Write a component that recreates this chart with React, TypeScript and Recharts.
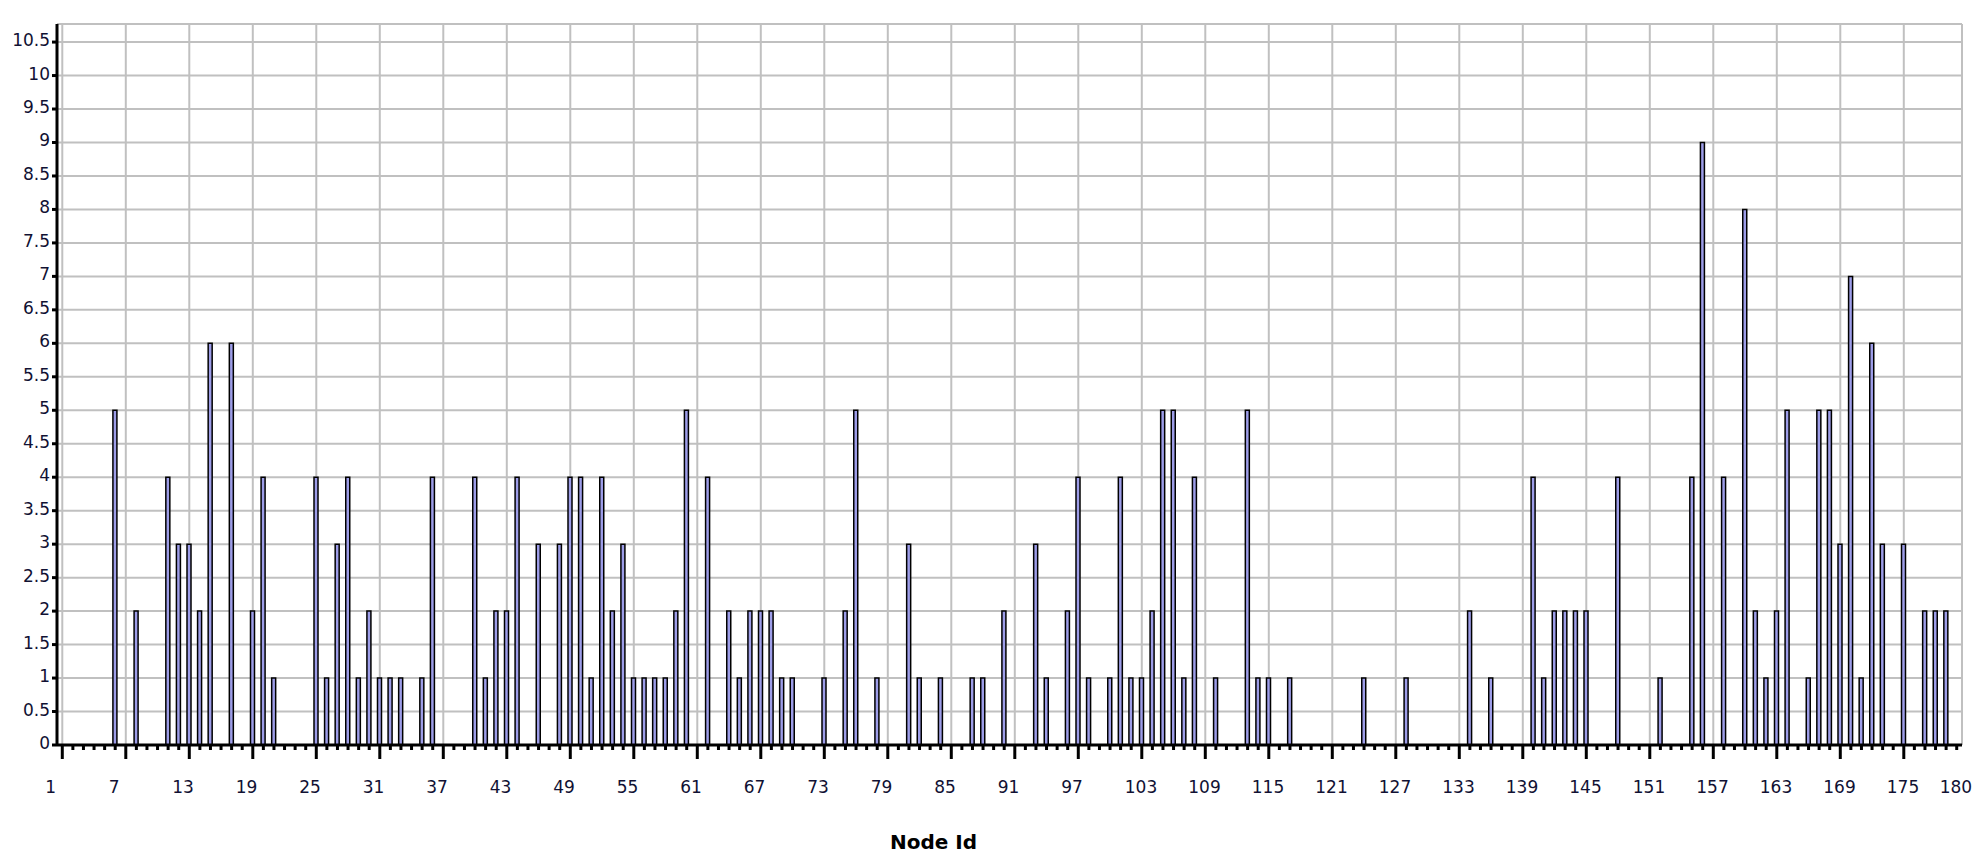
import { BarChart, Bar, XAxis, YAxis, CartesianGrid } from 'recharts'

// node ids that have a non-zero value, and their values
const activeNodes = [
  6, 8, 11, 12, 13, 14, 15, 17, 19, 20, 21, 25, 26, 27, 28, 29, 30, 31, 32, 33,
  35, 36, 40, 41, 42, 43, 44, 46, 48, 49, 50, 51, 52, 53, 54, 55, 56, 57, 58, 59,
  60, 62, 64, 65, 66, 67, 68, 69, 70, 73, 75, 76, 78, 81, 82, 84, 87, 88, 90, 93,
  94, 96, 97, 98, 100, 101, 102, 103, 104, 105, 106, 107, 108, 110, 113, 114, 115, 117, 124, 128,
  134, 136, 140, 141, 142, 143, 144, 145, 148, 152, 155, 156, 158, 160, 161, 162, 163, 164, 166, 167,
  168, 169, 170, 171, 172, 173, 175, 177, 178, 179,
]
const nodeValues = [
  5, 2, 4, 3, 3, 2, 6, 6, 2, 4, 1, 4, 1, 3, 4, 1, 2, 1, 1, 1,
  1, 4, 4, 1, 2, 2, 4, 3, 3, 4, 4, 1, 4, 2, 3, 1, 1, 1, 1, 2,
  5, 4, 2, 1, 2, 2, 2, 1, 1, 1, 2, 5, 1, 3, 1, 1, 1, 1, 2, 3,
  1, 2, 4, 1, 1, 4, 1, 1, 2, 5, 5, 1, 4, 1, 5, 1, 1, 1, 1, 1,
  2, 1, 4, 1, 2, 2, 2, 2, 4, 1, 4, 9, 4, 8, 2, 1, 2, 5, 1, 5,
  5, 3, 7, 1, 6, 3, 3, 2, 2, 2,
]

const nodeCount = 180
const xLabels = [1, 7, 13, 19, 25, 31, 37, 43, 49, 55, 61, 67, 73, 79, 85, 91, 97, 103, 109, 115, 121, 127, 133, 139, 145, 151, 157, 163, 169, 175, 180]
const majorTicks = [1, 7, 13, 19, 25, 31, 37, 43, 49, 55, 61, 67, 73, 79, 85, 91, 97, 103, 109, 115, 121, 127, 133, 139, 145, 151, 157, 163, 169, 175]
const yTicks = [0, 0.5, 1, 1.5, 2, 2.5, 3, 3.5, 4, 4.5, 5, 5.5, 6, 6.5, 7, 7.5, 8, 8.5, 9, 9.5, 10, 10.5]
const yMax = 10.77

const data = Array.from({ length: nodeCount }, (_, i) => {
  const node = i + 1
  const k = activeNodes.indexOf(node)
  return { node, degree: k >= 0 ? nodeValues[k] : 0 }
})

const FONT = '"DejaVu Sans", Verdana, Tahoma, sans-serif'
const TEXT = '#111133'
const GRID = '#c0c0c0'

function NodeTick(props: any) {
  const { x, y, payload } = props
  const id = payload.value
  const major = majorTicks.includes(id)
  return (
    <g>
      <line x1={x} y1={y} x2={x} y2={y + (major ? 14 : 5)} stroke="#000" strokeWidth={3} />
      {xLabels.includes(id) && (
        <text x={x - 17} y={y + 48} textAnchor="start" fontFamily={FONT} fontSize={17} fill={TEXT}>
          {id}
        </text>
      )}
    </g>
  )
}

function DegreeTick(props: any) {
  const { x, y, payload } = props
  return (
    <text x={x} y={y + 4} textAnchor="end" fontFamily={FONT} fontSize={17} fill={TEXT}>
      {payload.value}
    </text>
  )
}

function verticalLines({ xAxis, offset }: any) {
  const sc = xAxis?.scale
  const pos = (id: number) =>
    sc && typeof sc === 'function' && sc.bandwidth
      ? sc(id) + sc.bandwidth() / 2
      : offset.left + (offset.width * (id - 0.5)) / nodeCount
  return [...majorTicks.map(pos), offset.left + offset.width]
}

function horizontalLines({ yAxis, offset }: any) {
  const sc = yAxis?.scale
  const pos = (v: number) =>
    sc && typeof sc === 'function' ? sc(v) : offset.top + offset.height * (1 - v / yMax)
  return [...yTicks.map(pos), offset.top]
}

export default function App() {
  return (
    <div style={{ position: 'absolute', left: 0, top: 0, background: '#fff' }}>
      <BarChart width={1983} height={866} data={data} margin={{ top: 24, right: 21, left: 0, bottom: 0 }}>
        <CartesianGrid
          stroke={GRID}
          strokeWidth={2}
          verticalCoordinatesGenerator={verticalLines}
          horizontalCoordinatesGenerator={horizontalLines}
        />
        <XAxis
          dataKey="node"
          type="category"
          interval={0}
          height={121}
          tickLine={false}
          tickSize={0}
          tickMargin={0}
          tick={<NodeTick />}
          axisLine={{ stroke: '#000', strokeWidth: 3 }}
          label={{
            value: 'Node Id',
            position: 'insideBottom',
            offset: 17,
            dx: -76,
            style: { fontFamily: FONT, fontWeight: 'bold', fontSize: 20, fill: '#000' },
          }}
        />
        <YAxis
          type="number"
          domain={[0, yMax]}
          ticks={yTicks}
          interval={0}
          allowDataOverflow
          width={57}
          tickSize={5}
          tickMargin={2}
          tickLine={{ stroke: '#000', strokeWidth: 3 }}
          axisLine={{ stroke: '#000', strokeWidth: 3 }}
          tick={<DegreeTick />}
        />
        <Bar
          dataKey="degree"
          barSize={4}
          fill="#9d9de8"
          stroke="#000"
          strokeWidth={1.5}
          isAnimationActive={false}
        />
      </BarChart>
    </div>
  )
}
